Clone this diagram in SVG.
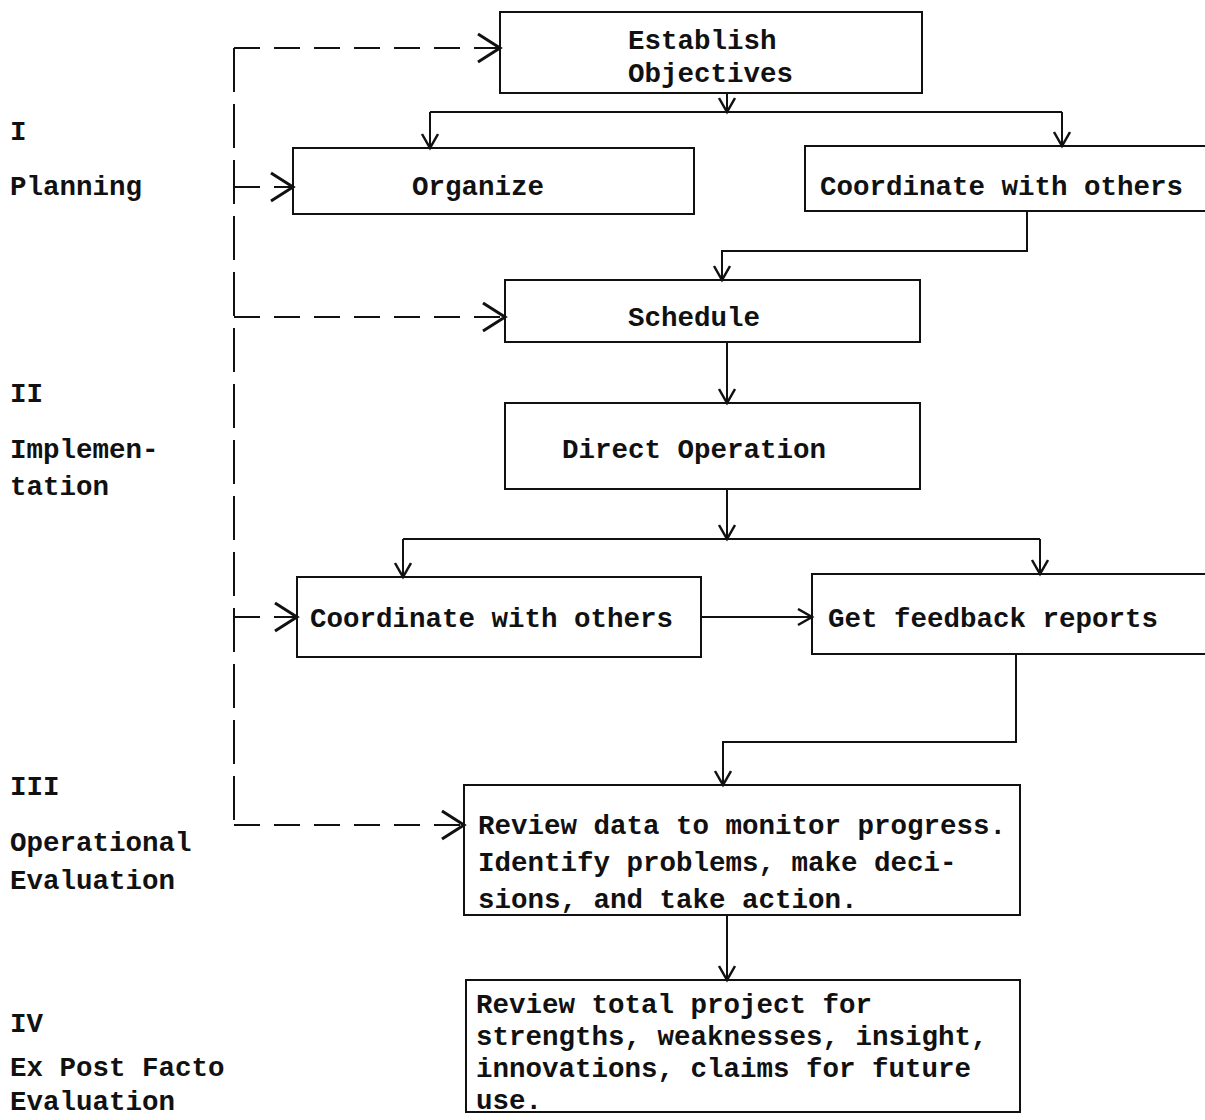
<svg xmlns="http://www.w3.org/2000/svg" width="1205" height="1120" viewBox="0 0 1205 1120">
<style>
text{font-family:"Liberation Mono","Courier New",monospace;font-size:27.5px;font-weight:bold;fill:#111}
.box{fill:none;stroke:#111;stroke-width:2}
.ln{fill:none;stroke:#111;stroke-width:2}
.dv{fill:none;stroke:#111;stroke-width:2;stroke-dasharray:44 12}
.dh{fill:none;stroke:#111;stroke-width:2;stroke-dasharray:26 14}
</style>
<defs>
<marker id="a" markerUnits="userSpaceOnUse" markerWidth="18" markerHeight="20" refX="15" refY="9" orient="auto">
<path d="M1,1 L15,9 L1,17" fill="none" stroke="#111" stroke-width="2.5"/>
</marker>
<marker id="b" markerUnits="userSpaceOnUse" markerWidth="26" markerHeight="34" refX="23" refY="16" orient="auto">
<path d="M1,2 L23,16 L1,30" fill="none" stroke="#111" stroke-width="3"/>
</marker>
</defs>
<rect width="1205" height="1120" fill="#fff"/>
<g id="labels">
<text x="10" y="140">I</text>
<text x="10" y="195">Planning</text>
<text x="10" y="402">II</text>
<text x="10" y="458">Implemen-</text>
<text x="10" y="495">tation</text>
<text x="10" y="795">III</text>
<text x="10" y="851">Operational</text>
<text x="10" y="889">Evaluation</text>
<text x="10" y="1032">IV</text>
<text x="10" y="1076">Ex Post Facto</text>
<text x="10" y="1110">Evaluation</text>
</g>
<g id="n1"><rect class="box" x="500" y="12" width="422" height="81"/><text x="628" y="49">Establish</text><text x="628" y="82">Objectives</text></g>
<g id="n2"><rect class="box" x="293" y="148" width="401" height="66"/><text x="412" y="195">Organize</text></g>
<g id="n3"><rect class="box" x="805" y="146" width="410" height="65"/><text x="820" y="195">Coordinate with others</text></g>
<g id="n4"><rect class="box" x="505" y="280" width="415" height="62"/><text x="628" y="326">Schedule</text></g>
<g id="n5"><rect class="box" x="505" y="403" width="415" height="86"/><text x="562" y="458">Direct Operation</text></g>
<g id="n6"><rect class="box" x="297" y="577" width="404" height="80"/><text x="310" y="627">Coordinate with others</text></g>
<g id="n7"><rect class="box" x="812" y="574" width="403" height="80"/><text x="828" y="627">Get feedback reports</text></g>
<g id="n8"><rect class="box" x="464" y="785" width="556" height="130"/><text x="478" y="834">Review data to monitor progress.</text><text x="478" y="871">Identify problems, make deci-</text><text x="478" y="908">sions, and take action.</text></g>
<g id="n9"><rect class="box" x="466" y="980" width="554" height="132"/><text x="476" y="1013">Review total project for</text><text x="476" y="1045">strengths, weaknesses, insight,</text><text x="476" y="1077">innovations, claims for future</text><text x="476" y="1109">use.</text></g>
<g id="connectors">
<path class="ln" d="M727,93 V112" marker-end="url(#a)"/>
<path class="ln" d="M430,112 H1062"/>
<path class="ln" d="M430,112 V148" marker-end="url(#a)"/>
<path class="ln" d="M1062,112 V146" marker-end="url(#a)"/>
<path class="ln" d="M1027,211 V251 H722 V280" marker-end="url(#a)"/>
<path class="ln" d="M727,342 V403" marker-end="url(#a)"/>
<path class="ln" d="M727,489 V539" marker-end="url(#a)"/>
<path class="ln" d="M403,539 H1040"/>
<path class="ln" d="M403,539 V577" marker-end="url(#a)"/>
<path class="ln" d="M1040,539 V574" marker-end="url(#a)"/>
<path class="ln" d="M701,617 H812" marker-end="url(#a)"/>
<path class="ln" d="M1016,654 V742 H723 V785" marker-end="url(#a)"/>
<path class="ln" d="M727,915 V980" marker-end="url(#a)"/>
<path class="dv" d="M234,48 V825"/>
<path class="dh" d="M234,48 H500" marker-end="url(#b)"/>
<path class="dh" d="M234,187 H293" marker-end="url(#b)"/>
<path class="dh" d="M234,317 H505" marker-end="url(#b)"/>
<path class="dh" d="M234,617 H297" marker-end="url(#b)"/>
<path class="dh" d="M234,825 H464" marker-end="url(#b)"/>
</g>
</svg>
